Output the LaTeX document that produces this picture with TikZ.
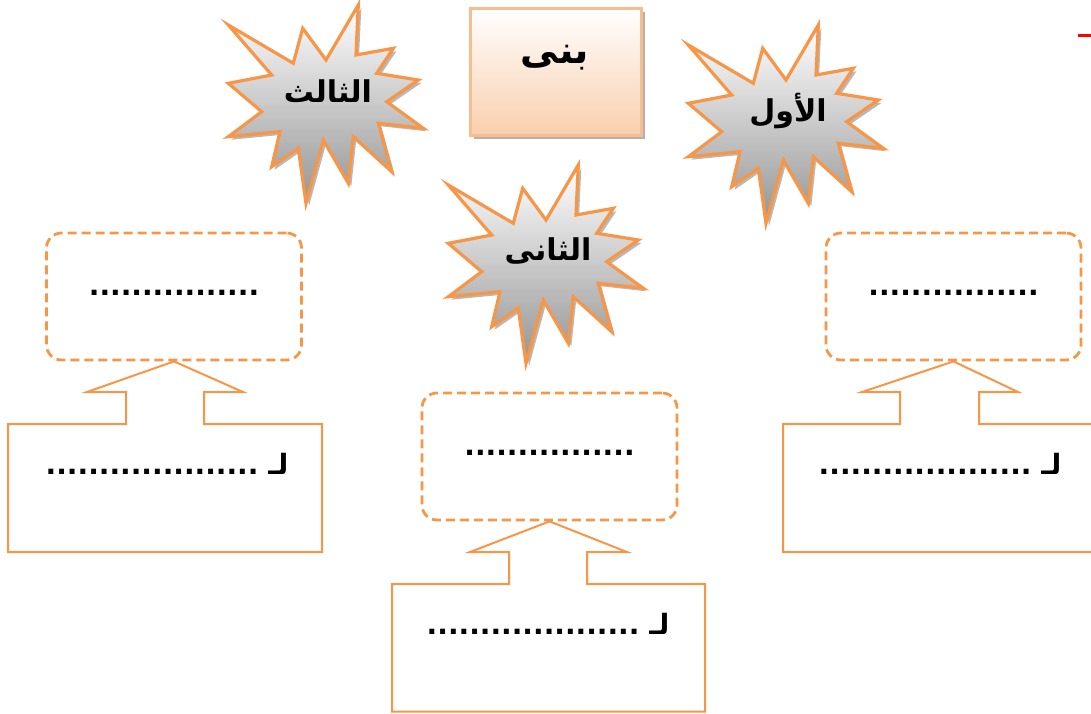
\documentclass[tikz,border=0pt]{standalone}
\usepackage{fontspec}
\newfontfamily\arabicfont[Script=Arabic]{DejaVu Sans}
\TeXXeTstate=1
\definecolor{orc}{HTML}{F79646}
\definecolor{boxc}{HTML}{F8BD8C}
\definecolor{peach}{HTML}{F9CFAE}
\newcommand\mkburst[4]{%
 \begin{scope}[shift={(#1,#2)}]
  \fill[black!28, shift={(3,3)}, starshape];
  \shadedraw[top color=white, bottom color=black!42, draw=orc, line width=3.2pt, line join=miter, starshape];
  \node[lbl] (#3) at (108,91) {\beginR #4\endR};
 \end{scope}}
\begin{document}
\begin{tikzpicture}[x=1pt,y=-1pt,
  lbl/.style={font=\arabicfont\bfseries\fontsize{30}{32}\selectfont, inner sep=0pt},
  dotline/.style={font=\arabicfont\bfseries\fontsize{28}{30}\selectfont, inner sep=0pt, anchor=base},
  dbox/.style={draw=orc, line width=2.8pt, dash pattern=on 9pt off 5pt, rounded corners=15pt, minimum width=255pt, minimum height=127pt, inner sep=0pt},
  call/.style={draw=orc, line width=2pt, line join=miter},
  starshape/.style={insert path={(8.3,25) -- (73.3,63.3) -- (82.7,28.3) -- (106,60) -- (138.3,5) -- (136,55) -- (173.3,48.3) -- (156.7,73.3) -- (198.3,80) -- (166.7,101.7) -- (203.3,128.3) -- (158.3,123.3) -- (171.7,171.7) -- (133.3,136.7) -- (128.3,183.3) -- (103.3,140) -- (86,203.3) -- (78.3,148.3) -- (51.7,166.7) -- (60,131.7) -- (8.3,136.7) -- (41.7,111.7) -- (8.3,83.3) -- (51.7,75) -- cycle}},
]
\useasboundingbox (0,0) rectangle (1091,713);

% red mark
\coordinate (r1) at (1078,35);
\coordinate (r2) at (1091,35);
\draw[red, line width=3pt] (r1) -- (r2);

% title box
\fill[black!30] (474,12) rectangle (645,139);
\shadedraw[top color=white, bottom color=peach, draw=boxc, line width=3pt] (470,8) rectangle (641,135);
\node[lbl, font=\arabicfont\bfseries\fontsize{38}{40}\selectfont] (bana) at (555,58) {\beginR بنى\endR};

% bursts
\mkburst{220}{0}{third}{الثالث}
\mkburst{440}{160}{second}{الثانى}
\mkburst{680}{20}{first}{الأول}

% dashed boxes
\node[dbox] (d1) at (174,296.5) {};
\node[dbox] (d2) at (549.5,456.5) {};
\node[dbox] (d3) at (953.5,296.5) {};
\node[dotline] (t1) at (d1.center |- 0,295) {................};
\node[dotline] (t2) at (d2.center |- 0,455) {................};
\node[dotline] (t3) at (d3.center |- 0,295) {................};

% callout arrows with boxes
\draw[call] (8,424) -- (126,424) -- (126,392) -- (87,392) -- (d1.south) -- (243,392) -- (204,392) -- (204,424) -- (322,424) -- (322,552) -- (8,552) -- cycle;
\draw[call] (392,584) -- (509,584) -- (509,552) -- (470,552) -- (d2.south) -- (627,552) -- (587,552) -- (587,584) -- (705,584) -- (705,711.5) -- (392,711.5) -- cycle;
\draw[call] (783,424) -- (900,424) -- (900,392) -- (862,392) -- (d3.south) -- (1018,392) -- (979,392) -- (979,424) -- (1096,424) -- (1096,552) -- (783,552) -- cycle;

\node[dotline] (b1) at (167,474) {\beginR لـ ....................\endR};
\node[dotline] (b2) at (548,634) {\beginR لـ ....................\endR};
\node[dotline] (b3) at (940,474) {\beginR لـ ....................\endR};
\end{tikzpicture}
\end{document}
